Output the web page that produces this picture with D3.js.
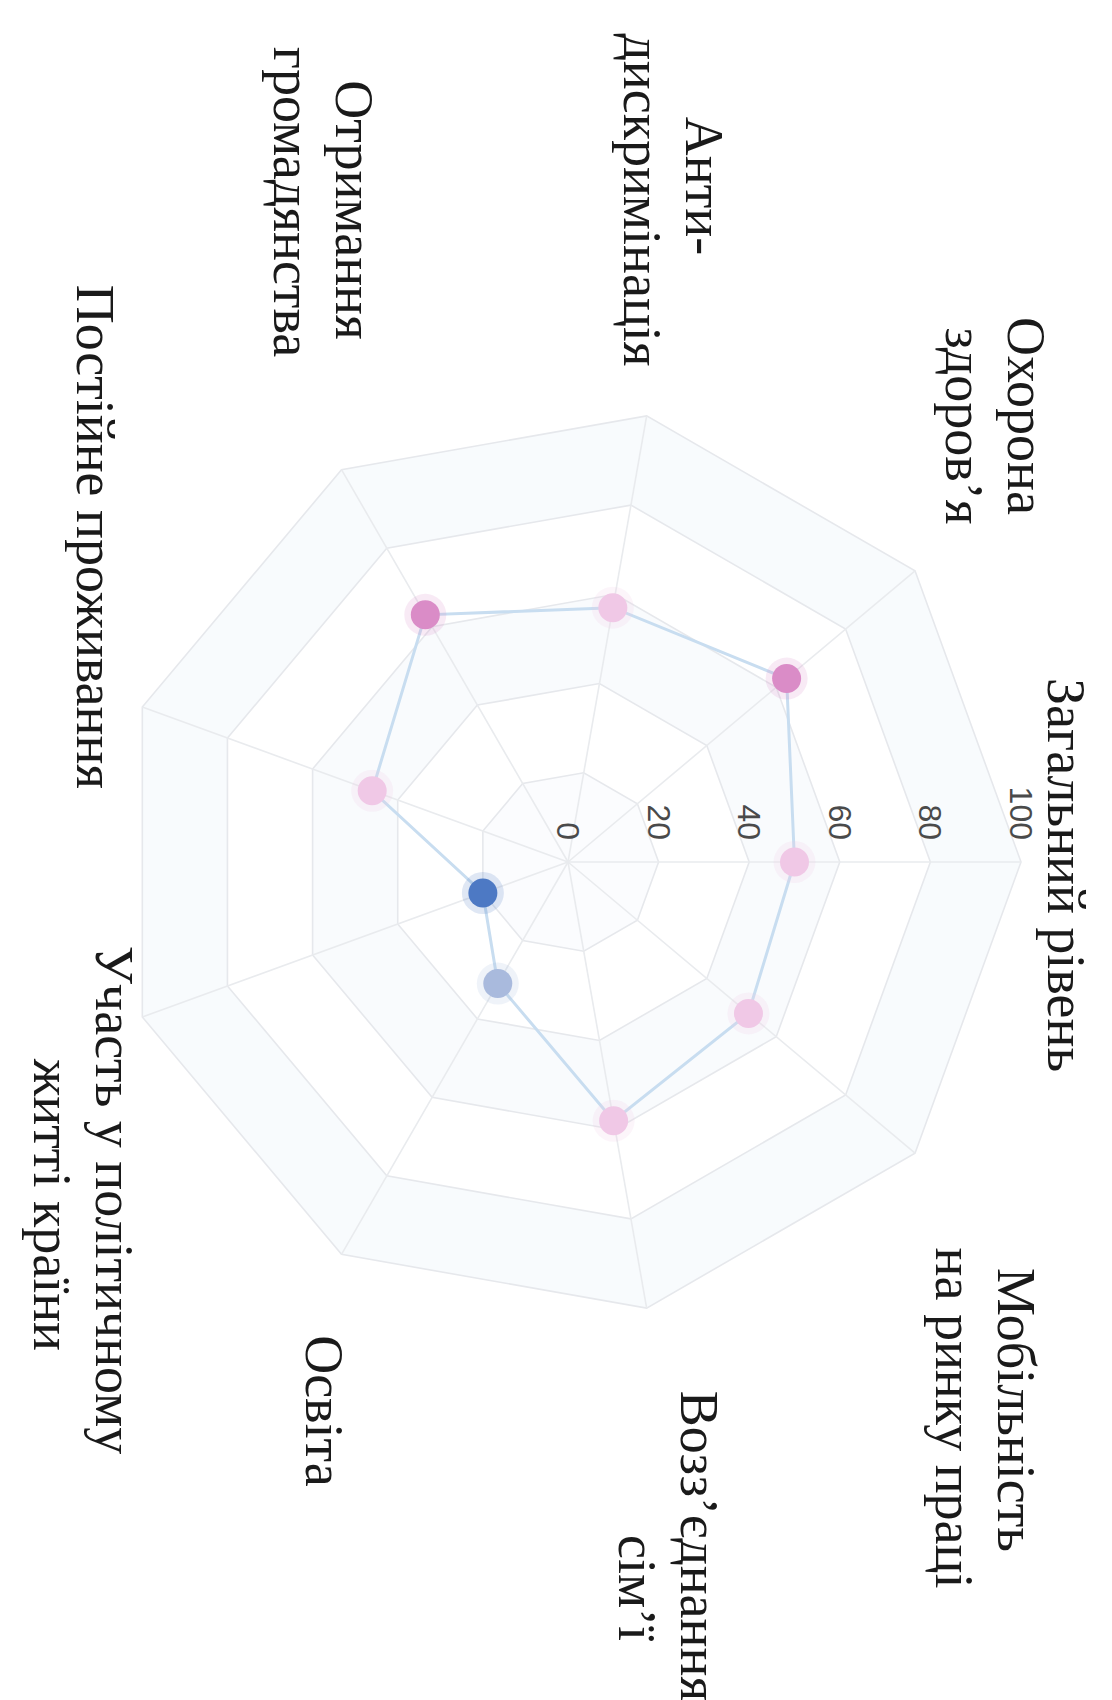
<!DOCTYPE html>
<html>
<head>
<meta charset="utf-8">
<script src="https://cdn.jsdelivr.net/npm/d3@7"></script>
<style>
    body { margin: 0; background: #fff; }
</style>
</head>
<body>
<svg id="chart" width="1112" height="1700"></svg>
<script>
// indicator names (line breaks as in the picture)
const indicators = [
    'Загальний рівень',
    'Мобільність\nна ринку праці',
    'Возз’єднання\nсім’ї',
    'Освіта',
    'Участь у політичному\nжитті країни',
    'Постійне проживання',
    'Отримання\nгромадянства',
    'Анти-\nдискримінація',
    'Охорона\nздоров’я'
];
const values = [50, 52, 58, 31, 20, 46, 63, 57, 63];
const ticks = [0, 20, 40, 60, 80, 100];

// label anchors in the unrotated chart frame: [x of line 1, baseline of line 1, x of line 2]
const labelAnchors = [
    [13, -480], [548, -430, 556], [684, -113, 726], [549, 262], [338, 472, 343],
    [-325, 491], [-652, 232, -660], [-676, -118, -662], [-446, -440, -436]
];

const svg = d3.select('#chart');
const cx = 568;
const cy = 862;
const radius = 453;
const lineHeight = 62;

// the whole chart is turned a quarter turn clockwise
const g = svg.append('g')
        .attr('transform', `translate(${cx}, ${cy}) rotate(90)`);

const rScale = d3.scaleLinear()
        .domain([0, 100])
        .range([0, radius]);
const angle = i => i * 2 * Math.PI / indicators.length;
const point = (i, v) => [rScale(v) * Math.sin(angle(i)), -rScale(v) * Math.cos(angle(i))];
const ring = v => indicators.map((d, i) => point(i, v));

// split areas, from outside in
const bandFill = ['#f8fbfd', '#ffffff', '#f9fbfd', '#ffffff', '#fbfcfe'];
ticks.slice(1).reverse().forEach((t, k) => {
    g.append('polygon')
            .attr('points', ring(t).map(p => p.join(',')).join(' '))
            .attr('fill', bandFill[k])
            .attr('stroke', 'none');
});

// rings
ticks.slice(1).forEach(t => {
    g.append('polygon')
            .attr('points', ring(t).map(p => p.join(',')).join(' '))
            .attr('fill', 'none')
            .attr('stroke', '#e6e8ec')
            .attr('stroke-width', 1.6);
});

// spokes
g.selectAll('line.spoke')
        .data(indicators)
        .enter()
        .append('line')
        .attr('class', 'spoke')
        .attr('x1', 0)
        .attr('y1', 0)
        .attr('x2', (d, i) => point(i, 100)[0])
        .attr('y2', (d, i) => point(i, 100)[1])
        .attr('stroke', '#e9ebee')
        .attr('stroke-width', 1.6);

// tick labels along the first axis
g.selectAll('text.tick')
        .data(ticks)
        .enter()
        .append('text')
        .attr('class', 'tick')
        .attr('x', -22)
        .attr('y', d => -rScale(d))
        .attr('text-anchor', 'end')
        .attr('dominant-baseline', 'central')
        .style('font-family', '"Liberation Sans", Arial, sans-serif')
        .style('font-size', '32px')
        .style('fill', '#4a4a4a')
        .text(d => d);

// series line
const line = d3.line().curve(d3.curveLinearClosed);
g.append('path')
        .attr('d', line(values.map((v, i) => point(i, v))))
        .attr('fill', 'none')
        .attr('stroke', '#c8ddf0')
        .attr('stroke-width', 3);

// points coloured by value
const color = d3.scaleThreshold()
        .domain([25, 40, 60])
        .range(['#4d79c4', '#a9badd', '#f0c8e6', '#da8cc7']);
const dots = g.selectAll('g.dot')
        .data(values)
        .enter()
        .append('g')
        .attr('class', 'dot')
        .attr('transform', (d, i) => `translate(${point(i, d)})`);
dots.append('circle')
        .attr('r', 21)
        .attr('fill', d => color(d))
        .attr('opacity', 0.18);
dots.append('circle')
        .attr('r', 14.5)
        .attr('fill', d => color(d));

// indicator names
const names = g.selectAll('text.name')
        .data(indicators)
        .enter()
        .append('text')
        .attr('class', 'name')
        .attr('text-anchor', 'middle')
        .style('font-family', '"Liberation Serif", "Times New Roman", serif')
        .style('font-size', '54px')
        .style('fill', '#1a1a1a');
names.each(function (d, i) {
    const a = labelAnchors[i];
    d3.select(this).selectAll('tspan')
            .data(d.split('\n'))
            .enter()
            .append('tspan')
            .attr('x', (s, k) => (k > 0 && a[2] !== undefined) ? a[2] : a[0])
            .attr('y', (s, k) => a[1] + k * lineHeight)
            .text(s => s);
});
</script>
</body>
</html>
